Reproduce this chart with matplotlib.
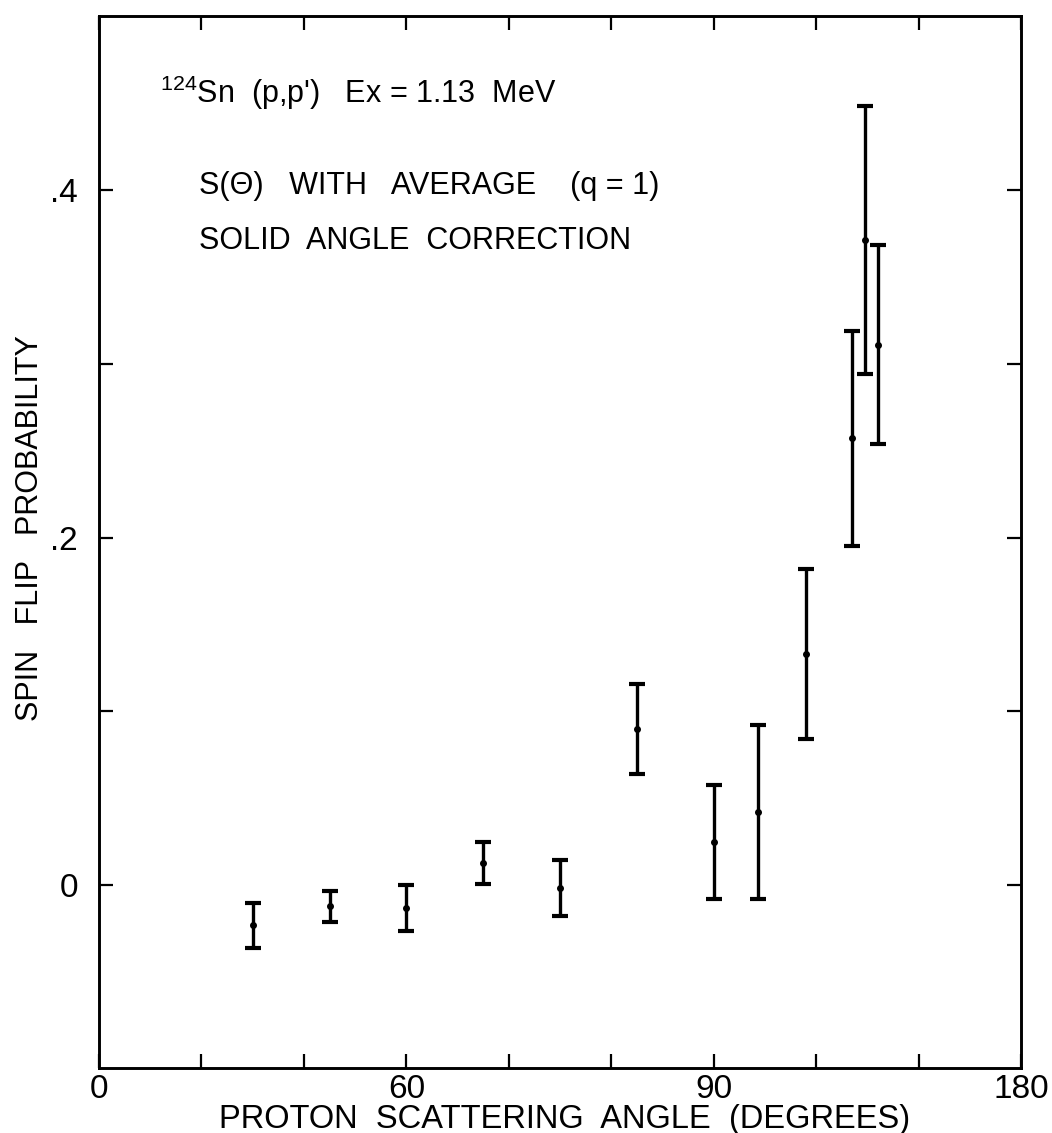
import matplotlib
matplotlib.use("Agg")
import matplotlib.pyplot as plt

plt.rcParams['font.family'] = ['Liberation Sans', 'DejaVu Sans']
plt.rcParams['mathtext.fontset'] = 'custom'
plt.rcParams['mathtext.rm'] = 'Liberation Sans'
plt.rcParams['mathtext.it'] = 'Liberation Sans'
plt.rcParams['mathtext.bf'] = 'Liberation Sans'

# Data
angles = [30, 45, 60, 75, 90, 105, 120, 128.5, 138, 147, 149.5, 152]
spin_flip = [-0.023, -0.012, -0.013, 0.013, -0.0015, 0.090, 0.025, 0.042, 0.133, 0.257, 0.371, 0.311]
errors = [0.013, 0.009, 0.013, 0.012, 0.016, 0.026, 0.033, 0.050, 0.049, 0.062, 0.077, 0.057]

x_tick_pos = [0, 20, 40, 60, 80, 100, 120, 140, 160, 180]
x_tick_labels = ["0", "", "", "60", "", "", "90", "", "", "180"]
y_tick_pos = [0.0, 0.1, 0.2, 0.3, 0.4]
y_tick_labels = ["0", "", ".2", "", ".4"]

fig = plt.figure(figsize=(10.52, 11.33), dpi=100)
ax = fig.add_axes([0.094, 0.0574, 0.877, 0.9286])

ax.errorbar(angles, spin_flip, yerr=errors, fmt='o', color='black', ms=4,
            elinewidth=2.4, capsize=5.5, capthick=3.0)

ax.set_xlim(0, 180)
ax.set_ylim(-0.105, 0.5)
ax.set_xticks(x_tick_pos)
ax.set_xticklabels(x_tick_labels, fontsize=24)
ax.set_yticks(y_tick_pos)
ax.set_yticklabels(y_tick_labels, fontsize=24)
ax.tick_params(direction='in', length=10, width=1.6, top=True, right=True,
               labeltop=False, labelright=False)
ax.tick_params(axis='x', pad=4)
ax.tick_params(axis='y', pad=15)
for s in ax.spines.values():
    s.set_linewidth(2.1)

ax.set_xlabel("PROTON  SCATTERING  ANGLE  (DEGREES)", fontsize=23.5)
ax.xaxis.set_label_coords(0.505, -0.034)
ax.set_ylabel("SPIN   FLIP   PROBABILITY", fontsize=22)
ax.yaxis.set_label_coords(-0.058, 0.513)

ax.text(0.066, 0.917, r"$^{124}$Sn  (p,p')   Ex = 1.13  MeV", transform=ax.transAxes,
        fontsize=22, ha='left', va='baseline')
ax.text(0.108, 0.831, "S(\u0398)   WITH   AVERAGE    (q = 1)", transform=ax.transAxes,
        fontsize=22, ha='left', va='baseline')
ax.text(0.108, 0.778, "SOLID  ANGLE  CORRECTION", transform=ax.transAxes,
        fontsize=22, ha='left', va='baseline')

fig.savefig("out.png", dpi=100)
